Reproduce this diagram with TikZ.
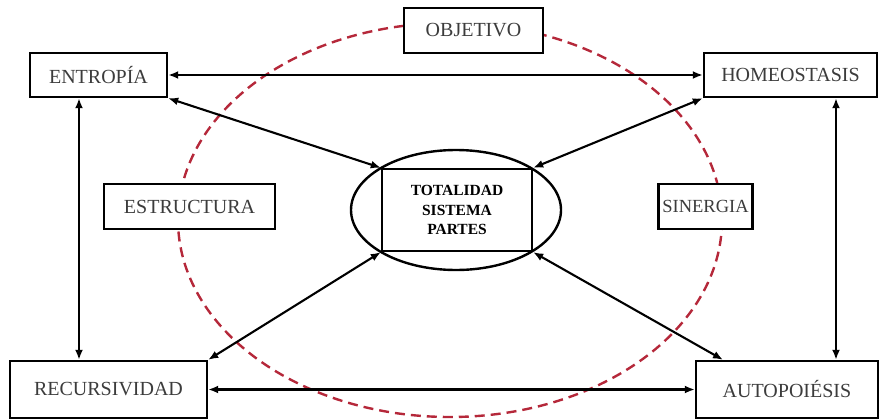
\documentclass[tikz,border=0pt]{standalone}
\usepackage{fontspec}
\setmainfont{Liberation Serif}
\usetikzlibrary{arrows.meta,shapes.geometric}
\definecolor{dashred}{HTML}{B5283A}
\definecolor{txtgray}{HTML}{3C3C3C}
\tikzset{
  box/.style={draw=black, line width=2.4pt, fill=white, text=txtgray, inner sep=0pt,
    font=\fontsize{20}{22}\selectfont},
  conn/.style={line width=2.1pt, {Latex[length=10pt,width=8pt]}-{Latex[length=10pt,width=8pt]}}
}
\begin{document}
\begin{tikzpicture}[x=1pt,y=-1pt]
\useasboundingbox (0,0) rectangle (883,420);
% red dashed ellipse
\draw[dashred, line width=2.4pt, dash pattern=on 10pt off 6pt] (450,220) ellipse [x radius=272, y radius=197];
% center ellipse
\node[draw=black, line width=2.4pt, ellipse, minimum width=210pt, minimum height=120pt, inner sep=0pt] (oval) at (456,210) {};
\node[box, minimum width=150pt, minimum height=82pt, align=center, text=black,
  font=\bfseries\fontsize{15.5}{19.5}\selectfont] (centro) at (457,210) {TOTALIDAD\\SISTEMA\\PARTES};
% boxes
\node[box, minimum width=137pt, minimum height=44pt] (entropia) at (98.5,75) {ENTROPÍA};
\node[box, minimum width=173pt, minimum height=44pt] (homeo) at (790.5,75) {HOMEOSTASIS};
\node[box, minimum width=139pt, minimum height=45pt] (objetivo) at (473.5,30.5) {OBJETIVO};
\node[box, minimum width=171pt, minimum height=45pt] (estructura) at (189.5,206.5) {ESTRUCTURA};
\node[box, minimum width=94pt, minimum height=45pt, font=\fontsize{18.5}{22}\selectfont] (sinergia) at (705.5,206.5) {SINERGIA};
\node[box, minimum width=197pt, minimum height=57pt] (recurs) at (108.5,389.5) {RECURSIVIDAD};
\node[box, minimum width=182pt, minimum height=57pt] (autop) at (787,389.5) {AUTOPOIÉSIS};
% connectors
\draw[conn] (entropia.east) -- (homeo.west);
\draw[conn] (recurs.east) -- (autop.west);
\draw[conn] ([xshift=-19.5pt]entropia.south) -- ([xshift=-29.5pt]recurs.north);
\draw[conn] ([xshift=45.5pt]homeo.south) -- ([xshift=49pt]autop.north);
\draw[conn] (entropia.south east) -- (centro.north west);
\draw[conn] (homeo.south west) -- (centro.north east);
\draw[conn] (recurs.north east) -- (centro.south west);
\draw[conn] ([xshift=-64pt]autop.north) -- (centro.south east);
\end{tikzpicture}
\end{document}
